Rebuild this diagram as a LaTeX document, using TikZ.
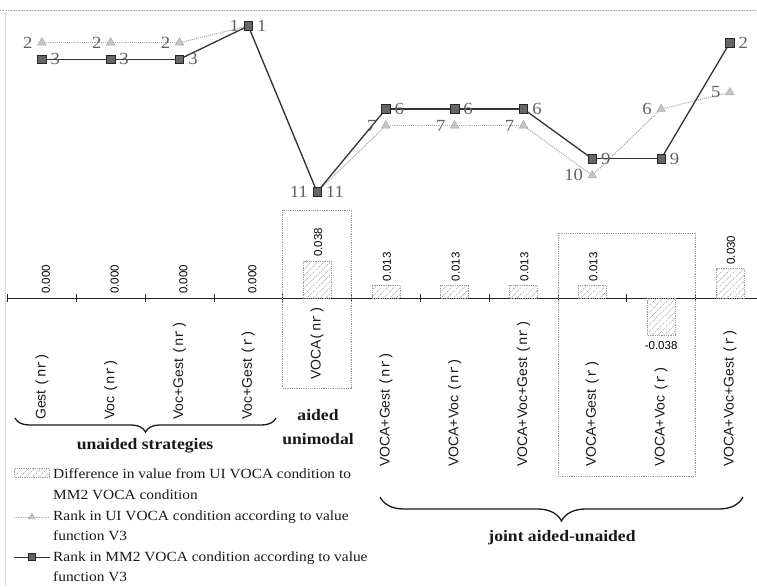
\documentclass[tikz,border=0pt]{standalone}
\usepackage{fontspec}
\setmainfont[FakeStretch=1.1]{Liberation Serif}
\newfontfamily\asans{Liberation Sans}
\newfontfamily\amono{Liberation Mono}
\usetikzlibrary{patterns,patterns.meta,decorations.pathreplacing,shapes.geometric}
\begin{document}
\begin{tikzpicture}[x=1pt,y=-1pt,
  frame/.style={gray!70,densely dotted,line width=0.6pt},
  axisline/.style={black!85,line width=0.9pt},
  tickmark/.style={black!85,line width=0.7pt},
  hbar/.style={draw=gray!75,densely dotted,line width=0.8pt,pattern={Lines[angle=45,distance=4.5pt,line width=0.6pt]},pattern color=gray!75},
  barlab/.style={font=\asans\fontsize{11.5}{12}\selectfont,inner sep=1pt,text=black},
  catlab/.style={font=\fontsize{14}{16}\selectfont,inner sep=0pt,rotate=90,anchor=west,text=black!90},
  dbox/.style={gray!80,densely dotted,line width=0.8pt},
  tri/.style={regular polygon,regular polygon sides=3,inner sep=0pt,minimum size=10pt,fill=gray!45,draw=gray!70,line width=0.4pt},
  sq/.style={rectangle,inner sep=0pt,minimum size=8.5pt,fill=black!60,draw=black!85,line width=0.6pt},
  uiline/.style={gray!65,densely dotted,line width=1.1pt},
  mmline/.style={black!80,line width=1.3pt},
  ranklab/.style={font=\fontsize{17}{18}\selectfont,text=gray!75!black,inner sep=1pt},
  bracedeco/.style={decorate,line width=1.3pt,black!90},
  grplab/.style={font=\bfseries\fontsize{16}{18}\selectfont,inner sep=0pt,text=black!90},
  legtext/.style={font=\fontsize{14}{20}\selectfont,inner sep=0pt,anchor=base west,text=black!90}
]
\useasboundingbox (0,0) rectangle (757,586);

% frame lines
\coordinate (ftl) at (0,10);
\coordinate (ftr) at (757,10);
\coordinate (fbl) at (5,586);
\coordinate (ftl2) at (5,10);
\draw[frame] (ftl) -- (ftr);
\draw[frame,gray!45] (ftl2) -- (fbl);

% axis
\coordinate (ax0) at (7,298);
\coordinate (ax1) at (757,298);
\draw[axisline] (ax0) -- (ax1);
\foreach \k in {0,...,10} {
  \coordinate (tk\k a) at ({7.5+68.8*\k},294);
  \coordinate (tk\k b) at ({7.5+68.8*\k},302);
  \draw[tickmark] (tk\k a) -- (tk\k b);
}

% dotted boxes
\draw[dbox] (282.7,210) rectangle (351.5,388);
\draw[dbox] (557.9,233) rectangle (695.5,476);

% bars
\foreach \i/\v/\t in {5/0.038/0.038,6/0.013/0.013,7/0.013/0.013,8/0.013/0.013,9/0.013/0.013,11/0.030/0.030} {
  \draw[hbar] ({7.5+68.8*(\i-0.5)-14},298) rectangle ++(28,{-975*\v});
  \node[barlab,rotate=90,anchor=west] (bl\i) at ({7.5+68.8*(\i-0.5)+1},{298-975*\v-3}) {\t};
}
\foreach \i in {1,2,3,4} {
  \node[barlab,rotate=90,anchor=west] (bl\i) at ({7.5+68.8*(\i-0.5)+4},295) {0.000};
}
\draw[hbar] ({7.5+68.8*9.5-14},298) rectangle ++(28,37);
\node[barlab,anchor=north] (bl10) at ({7.5+68.8*9.5},340) {-0.038};

% category labels
\node[catlab] (c1) at ({7.5+68.8*0.5},420) {\asans Gest \amono(nr)};
\node[catlab] (c2) at ({7.5+68.8*1.5},420) {\asans Voc \amono(nr)};
\node[catlab] (c3) at ({7.5+68.8*2.5},420) {\asans Voc+Gest \amono(nr)};
\node[catlab] (c4) at ({7.5+68.8*3.5},420) {\asans Voc+Gest \amono(r)};
\node[catlab] (c5) at ({7.5+68.8*4.5},380) {\asans VOCA\amono(nr)};
\node[catlab] (c6) at ({7.5+68.8*5.5},467) {\asans VOCA+Gest \amono(nr)};
\node[catlab] (c7) at ({7.5+68.8*6.5},467) {\asans VOCA+Voc \amono(nr)};
\node[catlab] (c8) at ({7.5+68.8*7.5},467) {\asans VOCA+Voc+Gest \amono(nr)};
\node[catlab] (c9) at ({7.5+68.8*8.5},467) {\asans VOCA+Gest \amono(r)};
\node[catlab] (c10) at ({7.5+68.8*9.5},467) {\asans VOCA+Voc \amono(r)};
\node[catlab] (c11) at ({7.5+68.8*10.5},467) {\asans VOCA+Voc+Gest \amono(r)};

% rank series
\foreach \i/\r in {1/2,2/2,3/2,4/1,5/11,6/7,7/7,8/7,9/10,10/6,11/5} {
  \coordinate (up\i) at ({7.5+68.8*(\i-0.5)},{26+16.6*(\r-1)});
}
\foreach \i/\r in {1/3,2/3,3/3,4/1,5/11,6/6,7/6,8/6,9/9,10/9,11/2} {
  \coordinate (mp\i) at ({7.5+68.8*(\i-0.5)},{26+16.6*(\r-1)});
}
\foreach \a/\b in {1/2,2/3,3/4,4/5,5/6,6/7,7/8,8/9,9/10,10/11} {
  \draw[uiline] (up\a) -- (up\b);
}
\foreach \a/\b in {1/2,2/3,3/4,4/5,5/6,6/7,7/8,8/9,9/10,10/11} {
  \draw[mmline] (mp\a) -- (mp\b);
}
\foreach \i/\r in {1/2,2/2,3/2,4/1,5/11,6/7,7/7,8/7,9/10,10/6,11/5} {
  \node[tri] (u\i) at (up\i) {};
  \node[ranklab,anchor=east] (ul\i) at ([xshift=-5pt]u\i.west) {\r};
}
\foreach \i/\r in {1/3,2/3,3/3,4/1,5/11,6/6,7/6,8/6,9/9,10/9,11/2} {
  \node[sq] (m\i) at (mp\i) {};
  \node[ranklab,anchor=west] (ml\i) at ([xshift=3pt]m\i.east) {\r};
}

% braces
\coordinate (bu0) at (15,418);
\coordinate (bu1) at (276,418);
\draw[bracedeco,decoration={brace,mirror,amplitude=14pt}] (bu0) -- (bu1);
\node[grplab] (gu) at (145,446) {unaided strategies};
\node[grplab] (ga1) at (318,415) {aided};
\node[grplab] (ga2) at (318,439) {unimodal};
\coordinate (bj0) at (380,497);
\coordinate (bj1) at (743,497);
\draw[bracedeco,decoration={brace,mirror,amplitude=24pt}] (bj0) -- (bj1);
\node[grplab] (gj) at (562,538) {joint aided-unaided};

% legend
\node[hbar,minimum width=35pt,minimum height=9pt,inner sep=0pt] (lg1) at (32,473) {};
\coordinate (lg2a) at (14,517);
\coordinate (lg2b) at (50,517);
\draw[uiline,line width=0.8pt] (lg2a) -- (lg2b);
\node[tri,minimum size=8pt] (lg2m) at (32,517) {};
\coordinate (lg3a) at (14,557);
\coordinate (lg3b) at (50,557);
\draw[mmline,line width=1pt] (lg3a) -- (lg3b);
\node[sq,minimum size=7pt] (lg3m) at (32,557) {};
\node[legtext] (lt1) at (53,478) {Difference in value from UI VOCA condition to};
\node[legtext] (lt2) at (53,499) {MM2 VOCA condition};
\node[legtext] (lt3) at (53,520) {Rank in UI VOCA condition according to value};
\node[legtext] (lt4) at (53,540) {function V3};
\node[legtext] (lt5) at (53,561) {Rank in MM2 VOCA condition according to value};
\node[legtext] (lt6) at (53,581) {function V3};
\end{tikzpicture}
\end{document}
